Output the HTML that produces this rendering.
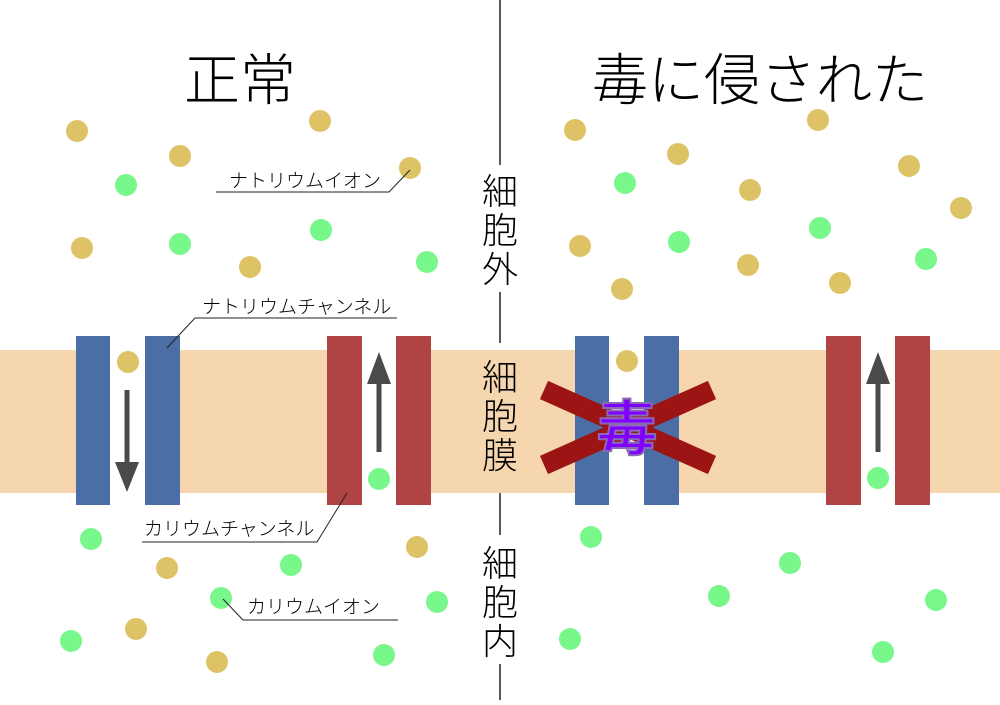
<!DOCTYPE html>
<html><head><meta charset="utf-8"><style>
body{margin:0;background:#fff}
svg text{font-family:"Liberation Sans","Noto Sans CJK JP",sans-serif}
.lt{font-weight:300}
</style></head><body>
<svg width="1000" height="700" viewBox="0 0 1000 700">
<rect x="0" y="350" width="1000" height="143" fill="#f5d6ae"/>
<g fill="#fff">
<rect x="110" y="336" width="35" height="169"/><rect x="362" y="336" width="34" height="169"/>
<rect x="609" y="336" width="35" height="169"/><rect x="861" y="336" width="34" height="169"/>
</g>
<g fill="#4c6ea6">
<rect x="76" y="336" width="34" height="169"/><rect x="145" y="336" width="35" height="169"/>
<rect x="575" y="336" width="34" height="169"/><rect x="644" y="336" width="35" height="169"/>
</g>
<g fill="#b04343">
<rect x="327" y="336" width="35" height="169"/><rect x="396" y="336" width="35" height="169"/>
<rect x="826" y="336" width="35" height="169"/><rect x="895" y="336" width="35" height="169"/>
</g>
<g fill="#4a4a4a" stroke="#4a4a4a">
<line x1="127" y1="390" x2="127" y2="468" stroke-width="5"/><polygon points="115,462 139,462 127,492" stroke="none"/>
<line x1="379" y1="378" x2="379" y2="452" stroke-width="5"/><polygon points="367,384 391,384 379,352" stroke="none"/>
<line x1="878" y1="378" x2="878" y2="452" stroke-width="5"/><polygon points="866,384 890,384 878,352" stroke="none"/>
</g>
<g fill="#dec266">
<circle cx="77" cy="131" r="11"/><circle cx="180" cy="156" r="11"/><circle cx="320" cy="121" r="11"/><circle cx="410" cy="168" r="11"/><circle cx="82" cy="248" r="11"/><circle cx="250" cy="267" r="11"/><circle cx="128" cy="362" r="11"/>
<circle cx="167" cy="568" r="11"/><circle cx="417" cy="547" r="11"/><circle cx="136" cy="629" r="11"/><circle cx="217" cy="662" r="11"/>
<circle cx="575" cy="130" r="11"/><circle cx="678" cy="154" r="11"/><circle cx="818" cy="120" r="11"/><circle cx="909" cy="166" r="11"/><circle cx="750" cy="190" r="11"/><circle cx="580" cy="246" r="11"/><circle cx="748" cy="265" r="11"/><circle cx="622" cy="289" r="11"/><circle cx="840" cy="283" r="11"/><circle cx="961" cy="208" r="11"/><circle cx="627" cy="361" r="11"/>
</g>
<g fill="#78f78a">
<circle cx="126" cy="185" r="11"/><circle cx="180" cy="244" r="11"/><circle cx="321" cy="230" r="11"/><circle cx="427" cy="262" r="11"/><circle cx="379" cy="479" r="11"/>
<circle cx="91" cy="539" r="11"/><circle cx="291" cy="565" r="11"/><circle cx="221" cy="598" r="11"/><circle cx="71" cy="641" r="11"/><circle cx="384" cy="655" r="11"/><circle cx="437" cy="602" r="11"/>
<circle cx="625" cy="183" r="11"/><circle cx="679" cy="242" r="11"/><circle cx="820" cy="228" r="11"/><circle cx="926" cy="259" r="11"/><circle cx="878" cy="478" r="11"/>
<circle cx="591" cy="537" r="11"/><circle cx="790" cy="563" r="11"/><circle cx="719" cy="596" r="11"/><circle cx="936" cy="600" r="11"/><circle cx="570" cy="639" r="11"/><circle cx="883" cy="652" r="11"/>
</g>
<g stroke="#9c1414" stroke-width="20">
<line x1="544" y1="390" x2="712" y2="465"/><line x1="544" y1="465" x2="712" y2="390"/>
</g>
<text x="627" y="450" font-size="60" text-anchor="middle" fill="#8000ff" stroke="#8a6ab5" stroke-width="2" font-weight="bold">毒</text>
<g stroke="#000" stroke-width="1.3">
<line x1="500" y1="0" x2="500" y2="165"/><line x1="500" y1="292" x2="500" y2="343"/>
<line x1="500" y1="493" x2="500" y2="535"/><line x1="500" y1="664" x2="500" y2="700"/>
</g>
<g font-size="36" text-anchor="middle" fill="#000" class="lt">
<text x="500" y="204">細</text><text x="500" y="243">胞</text><text x="500" y="282">外</text>
<text x="500" y="390">細</text><text x="500" y="429">胞</text><text x="500" y="468">膜</text>
<text x="500" y="576">細</text><text x="500" y="615">胞</text><text x="500" y="654">内</text>
</g>
<text x="240" y="100" font-size="56" text-anchor="middle" class="lt">正常</text>
<text x="760" y="100" font-size="56" text-anchor="middle" class="lt">毒に侵された</text>
<g font-size="19" fill="#000" class="lt">
<text x="229" y="187">ナトリウムイオン</text>
<text x="202" y="313">ナトリウムチャンネル</text>
<text x="144" y="535">カリウムチャンネル</text>
<text x="247" y="613">カリウムイオン</text>
</g>
<g stroke="#222" stroke-width="1" fill="none">
<polyline points="216,192 389,192 410,170"/>
<polyline points="397,318 195,318 167,348"/>
<polyline points="142,542 317,542 347,493"/>
<polyline points="223,599 243,620 398,620"/>
</g>
</svg>
</body></html>
